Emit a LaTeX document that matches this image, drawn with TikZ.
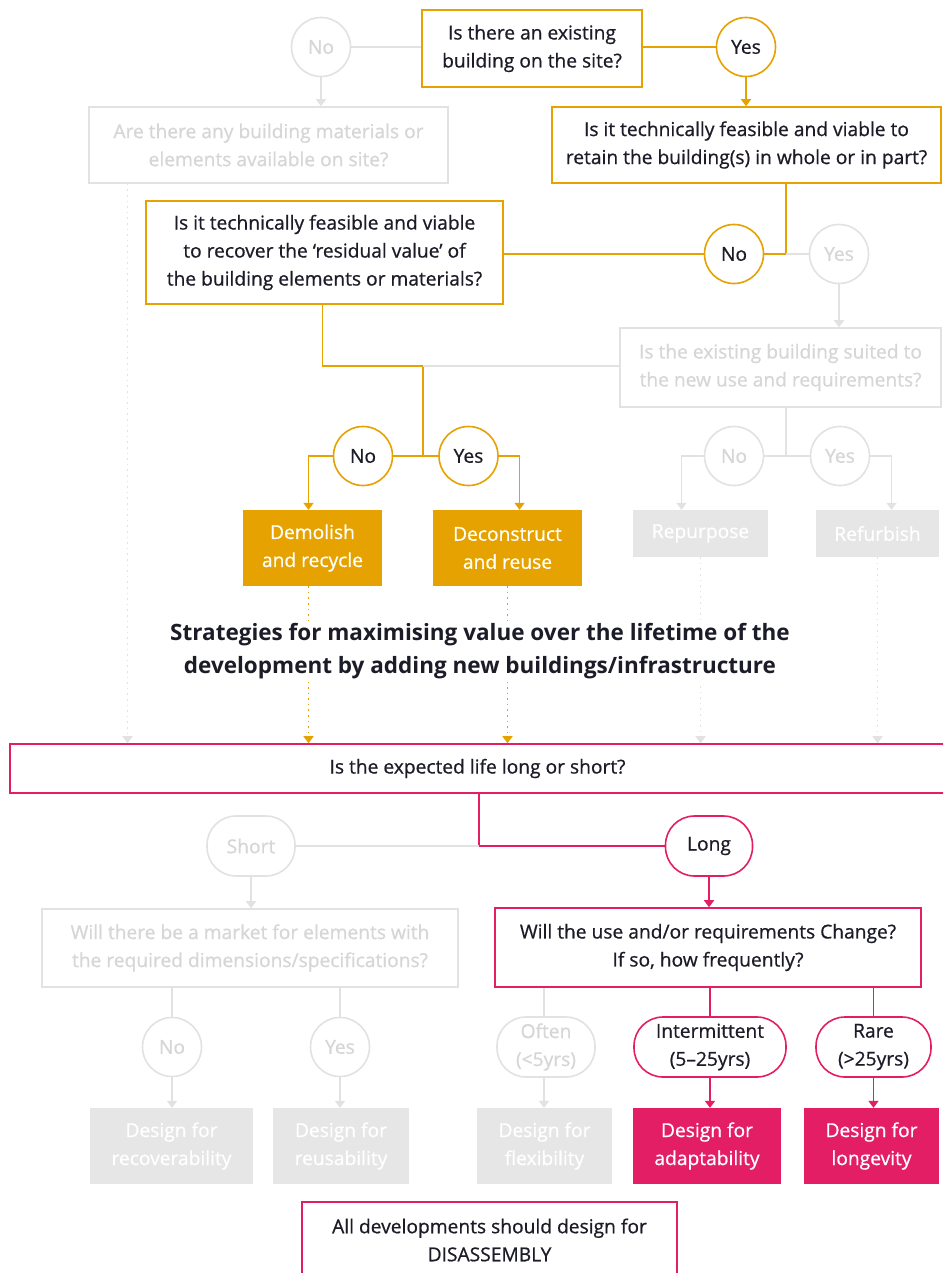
\documentclass[tikz,border=0pt]{standalone}
\usepackage{fontspec}
\setmainfont{Open Sans}[UprightFeatures={FakeBold=0.7}]
\usetikzlibrary{arrows.meta, positioning, calc}
\definecolor{arupor}{HTML}{E5A200}
\definecolor{aruppk}{HTML}{E41E64}
\definecolor{lightln}{HTML}{E2E2E2}
\definecolor{lighttx}{HTML}{D6D6D6}
\definecolor{lightfl}{HTML}{E6E6E6}
\definecolor{ink}{HTML}{1C1C28}

\begin{document}
\begin{tikzpicture}[
    x=1pt, y=-1pt,
    font=\fontsize{19.2}{28}\selectfont,
    >={Triangle[width=10pt,length=7pt]},
    every node/.style={align=center, inner sep=0pt, text=ink},
    q/.style={draw, line width=1.6pt, fill=white},
    qor/.style={q, draw=arupor},
    qpk/.style={q, draw=aruppk},
    qgrey/.style={q, draw=lightln, text=lighttx},
    ans/.style={circle, draw, line width=1.6pt, fill=white, minimum size=59pt},
    ansor/.style={ans, draw=arupor},
    ansgrey/.style={ans, draw=lightln, text=lighttx},
    pill/.style={rounded corners=29pt, draw, line width=1.6pt, fill=white, minimum height=60pt},
    pillpk/.style={pill, draw=aruppk},
    pillgrey/.style={pill, draw=lightln, text=lighttx},
    res/.style={fill=#1, text=white, minimum height=76pt},
    lnor/.style={draw=arupor, line width=1.6pt},
    lnpk/.style={draw=aruppk, line width=1.6pt},
    lngrey/.style={draw=lightln, line width=1.6pt},
    dotor/.style={lnor, dash pattern=on 1.6pt off 4pt},
    dotgrey/.style={lngrey, dash pattern=on 1.6pt off 4pt}
  ]

    \useasboundingbox (0,0) rectangle (943,1273);
    \fill[white] (0,0) rectangle (943,1273);
    \clip (0,0) rectangle (943,1273);

    % existing building
    \node[qor, minimum width=220pt, minimum height=77pt] (q1) at (532,48.5) {Is there an existing\\building on the site?};
    \node[ansgrey] (no1) at (321,47) {No};
    \node[ansor] (yes1) at (746,47) {Yes};
    \node[qgrey, minimum width=359pt, minimum height=76pt] (q1b) at (268.5,145) {Are there any building materials or\\elements available on site?};
    \node[qor, minimum width=389pt, minimum height=76pt] (q2) at (746.5,145) {Is it technically feasible and viable to\\retain the building(s) in whole or in part?};

    \node[ansor] (no2) at (734,254) {No};
    \node[ansgrey] (yes2) at (839,254) {Yes};
    \node[qor, minimum width=357pt, minimum height=103pt] (q3) at (324.5,252.5) {Is it technically feasible and viable\\to recover the ‘residual value’ of\\the building elements or materials?};
    \node[qgrey, minimum width=321pt, minimum height=79pt] (q4) at (780.5,367.5) {Is the existing building suited to\\the new use and requirements?};

    \node[ansor] (no3) at (363,456) {No};
    \node[ansor] (yes3) at (468.5,456) {Yes};
    \node[ansgrey] (no4) at (734,456) {No};
    \node[ansgrey] (yes4) at (840,456) {Yes};

    \node[res=arupor, minimum width=139pt] (demolish) at (312.5,548) {Demolish\\and recycle};
    \node[res=arupor, minimum width=149pt] (decon) at (507.5,548) {Deconstruct\\and reuse};
    \node[res=lightfl, minimum width=135pt, minimum height=47pt] (repurp) at (700.5,533.5) {Repurpose};
    \node[res=lightfl, minimum width=123pt, minimum height=47pt] (refurb) at (877.5,533.5) {Refurbish};

    % new buildings
    \node[qpk, minimum width=935pt, minimum height=49pt] (life) at (477.5,768.5) {Is the expected life long or short?};
    \node[pillgrey, minimum width=88pt] (short) at (251,846) {Short};
    \node[pillpk, minimum width=87pt] (long) at (709,846) {Long};
    \node[qgrey, minimum width=416pt, minimum height=78pt] (q6) at (250,948) {Will there be a market for elements with\\the required dimensions/specifications?};
    \node[qpk, minimum width=426pt, minimum height=79pt] (q5) at (708,947.5) {Will the use and/or requirements Change?\\If so, how frequently?};

    \node[ansgrey] (no5) at (172,1047) {No};
    \node[ansgrey] (yes5) at (340,1047) {Yes};
    \node[pillgrey, minimum width=98pt] (often) at (546,1047) {Often\\(<5yrs)};
    \node[pillpk, minimum width=152pt] (inter) at (710,1047) {Intermittent\\(5–25yrs)};
    \node[pillpk, minimum width=115pt] (rare) at (873.5,1047) {Rare\\(>25yrs)};

    \node[res=lightfl, minimum width=163pt] (rec) at (171.5,1146) {Design for\\recoverability};
    \node[res=lightfl, minimum width=136pt] (reus) at (341,1146) {Design for\\reusability};
    \node[res=lightfl, minimum width=135pt] (flex) at (544.5,1146) {Design for\\flexibility};
    \node[res=aruppk, minimum width=148pt] (adapt) at (707,1146) {Design for\\adaptability};
    \node[res=aruppk, minimum width=135pt] (longv) at (871.5,1146) {Design for\\longevity};

    \node[qpk, minimum width=375pt, minimum height=76pt] (dis) at (489.5,1240) {All developments should design for\\DISASSEMBLY};

    % top branches
    \draw[lngrey] (no1.east) -- (no1.east -| q1.west);
    \draw[lnor] (yes1.west) -- (yes1.west -| q1.east);
    \draw[lnor,->] (yes1.south) -- (yes1.south |- q2.north);
    \draw[lngrey,->] (no1.south) -- (no1.south |- q1b.north);

    \coordinate (j1) at (786,254);
    \draw[lnor] (j1 |- q2.south) -- (j1) -- (no2.east);
    \draw[lngrey] (j1) -- (yes2.west);
    \draw[lnor] (no2.west) -- (no2.west -| q3.east);
    \draw[lngrey,->] (yes2.south) -- (yes2.south |- q4.north);

    % residual value
    \coordinate (j2) at (423,366);
    \draw[lnor] ([xshift=-2pt]q3.south) |- (j2) -- (j2 |- no3.east);
    \draw[lnor] (no3.east) -- (yes3.west);
    \draw[lngrey] (j2) -- (j2 -| q4.west);
    \draw[lnor,->] (no3.west) -| ([xshift=-4pt]demolish.north);
    \draw[lnor,->] (yes3.east) -| ([xshift=12pt]decon.north);

    \coordinate (j3) at (786,456);
    \draw[lngrey] (j3 |- q4.south) -- (j3);
    \draw[lngrey] (no4.east) -- (yes4.west);
    \draw[lngrey,->] (no4.west) -| ([xshift=-19pt]repurp.north);
    \draw[lngrey,->] (yes4.east) -| ([xshift=14pt]refurb.north);

    % down to the life question
    \draw[dotgrey,->] ([xshift=-141pt]q1b.south) -- ([xshift=-141pt]q1b.south |- life.north);
    \draw[dotor,->] ([xshift=-4pt]demolish.south) -- ([xshift=-4pt]demolish.south |- life.north);
    \draw[dotor,->] (decon.south) -- (decon.south |- life.north);
    \draw[dotgrey,->] (repurp.south) -- (repurp.south |- life.north);
    \draw[dotgrey,->] (refurb.south) -- (refurb.south |- life.north);

    \node[fill=white, inner sep=3pt, font=\fontsize{22.5}{33}\selectfont\bfseries] (title) at (480,651.5)
      {Strategies for maximising value over the lifetime of the\\development by adding new buildings/infrastructure};

    % long or short
    \coordinate (j4) at (479,846);
    \draw[lnpk] (j4 |- life.south) -- (j4) -- (long.west);
    \draw[lngrey] (j4) -- (short.east);
    \draw[lnpk,->] (long.south) -- (long.south |- q5.north);
    \draw[lngrey,->] (short.south) -- (short.south |- q6.north);

    \draw[lngrey] (no5.north |- q6.south) -- (no5.north);
    \draw[lngrey] (yes5.north |- q6.south) -- (yes5.north);
    \draw[lngrey,->] (no5.south) -- (no5.south |- rec.north);
    \draw[lngrey,->] (yes5.south) -- (yes5.south |- reus.north);

    \draw[lngrey] ([xshift=-2pt]often.north |- q5.south) -- ([xshift=-2pt]often.north);
    \draw[lnpk] (inter.north |- q5.south) -- (inter.north);
    \draw[lnpk] (rare.north |- q5.south) -- (rare.north);
    \draw[lngrey,->] ([xshift=-2pt]often.south) -- ([xshift=-2pt]often.south |- flex.north);
    \draw[lnpk,->] (inter.south) -- (inter.south |- adapt.north);
    \draw[lnpk,->] (rare.south) -- (rare.south |- longv.north);

\end{tikzpicture}
\end{document}
